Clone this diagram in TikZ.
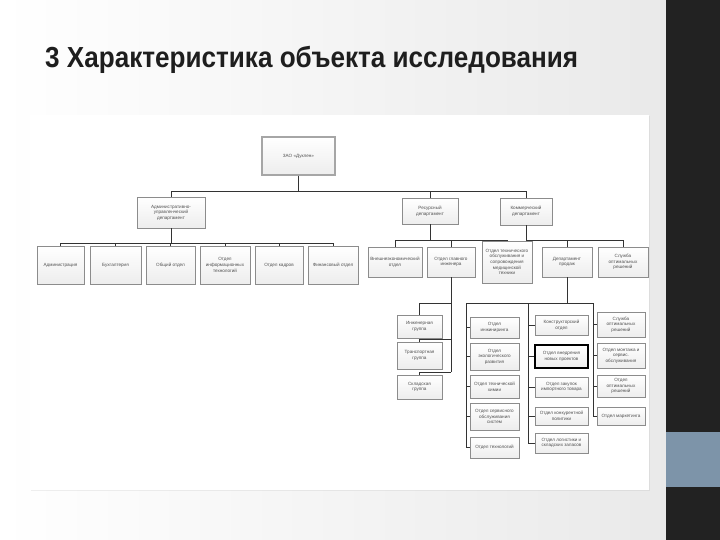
\documentclass[tikz,border=0pt]{standalone}
\usepackage{fontspec}
\usepackage{graphicx}
\setmainfont{Liberation Sans}
\usetikzlibrary{shadows}
\definecolor{band}{HTML}{222222}
\definecolor{accent}{HTML}{7D94A9}
\definecolor{boxline}{HTML}{8C8C8C}
\definecolor{boxtext}{HTML}{505050}
\definecolor{titlecol}{HTML}{1E1E1E}
\tikzset{
  box/.style={draw=boxline, line width=0.6pt, top color=white, bottom color=gray!14,
    font=\fontsize{4.6}{5.6}\selectfont, text=boxtext, align=center, inner sep=0pt,
    drop shadow={opacity=0.22, shadow xshift=0.8pt, shadow yshift=-0.8pt}},
  rootbox/.style={draw=gray!70, line width=1.4pt},
  boldbox/.style={draw=black, line width=1.6pt},
  conn/.style={draw=black!80, line width=0.5pt},
}
\newcommand{\orgbox}[7][]{\node[box,#1,minimum width={(#4-#2)*1pt},minimum height={(#5-#3)*1pt}] (#6) at ({(#2+#4)/2},{(#3+#5)/2}) {#7};}
\begin{document}
\begin{tikzpicture}[x=1pt,y=-1pt]
\useasboundingbox (0,0) rectangle (720,540);
% slide background
\fill[left color=white, right color=gray!17] (0,0) rectangle (666,540);
\fill[band] (666,0) rectangle (720,540);
\fill[accent] (666,432) rectangle (720,487);
\fill[white, drop shadow={opacity=0.12, shadow xshift=1pt, shadow yshift=-1pt}] (30,115) rectangle (649,490);
% title
\node[anchor=base west, inner sep=0pt, text=titlecol, font=\bfseries\fontsize{29}{30}\selectfont] (title) at (45,68) {\resizebox{533pt}{\height}{3 Характеристика объекта исследования}};
% level 0 and 1
\orgbox[rootbox]{262}{137}{335}{175}{root}{ЗАО «Дуклен»}
\orgbox{137}{197}{205}{228}{adm}{Административно-\\управленческий\\департамент}
\orgbox{402}{198}{458}{224}{res}{Ресурсный\\департамент}
\orgbox{500}{198}{552}{225}{com}{Коммерческий\\департамент}
% administrative row
\orgbox{37}{246}{84}{284}{l1}{Администрация}
\orgbox{90}{246}{141}{284}{l2}{Бухгалтерия}
\orgbox{146}{246}{195}{284}{l3}{Общий отдел}
\orgbox{200}{246}{250}{284}{l4}{Отдел\\информационных\\технологий}
\orgbox{255}{246}{303}{284}{l5}{Отдел кадров}
\orgbox{308}{246}{358}{284}{l6}{Финансовый отдел}
% resource and commercial row
\orgbox{368}{247}{422}{277}{ra}{Внешнеэкономический\\отдел}
\orgbox{427}{247}{475}{277}{rb}{Отдел главного\\инженера}
\orgbox{482}{241}{532}{283}{rc}{Отдел технического\\обслуживания и\\сопровождения\\медицинской\\техники}
\orgbox{542}{247}{592}{277}{cd}{Департамент\\продаж}
\orgbox{598}{247}{648}{277}{ce}{Служба\\оптимальных\\решений}
% column 1
\orgbox{397}{315}{442}{338}{g1}{Инженерная\\группа}
\orgbox{397}{342}{442}{369}{g2}{Транспортная\\группа}
\orgbox{397}{375}{442}{399}{g3}{Складская\\группа}
% column 2
\orgbox{470}{317}{519}{338}{m1}{Отдел\\инжиниринга}
\orgbox{470}{343}{519}{370}{m2}{Отдел\\экологического\\развития}
\orgbox{470}{375}{519}{398}{m3}{Отдел технической\\химии}
\orgbox{470}{403}{519}{430}{m4}{Отдел сервисного\\обслуживания\\систем}
\orgbox{470}{437}{519}{458}{m5}{Отдел технологий}
% column 3
\orgbox{535}{315}{588}{335}{p1}{Конструкторский\\отдел}
\orgbox[boldbox]{535}{345}{588}{368}{p2}{Отдел внедрения\\новых проектов}
\orgbox{535}{377}{588}{397}{p3}{Отдел закупок\\импортного товара}
\orgbox{535}{407}{588}{425}{p4}{Отдел конкурентной\\политики}
\orgbox{535}{433}{588}{453}{p5}{Отдел логистики и\\складских запасов}
% column 4
\orgbox{597}{312}{645}{337}{q1}{Служба\\оптимальных\\решений}
\orgbox{597}{343}{645}{368}{q2}{Отдел монтажа и\\сервис.\\обслуживания}
\orgbox{597}{375}{645}{397}{q3}{Отдел\\оптимальных\\решений}
\orgbox{597}{407}{645}{425}{q4}{Отдел маркетинга}
% connectors, upper levels
\draw[conn] (root.south) -- ++(0,16) coordinate (bA);
\foreach \n in {adm,res,com} \draw[conn] (bA) -| (\n.north);
\draw[conn] (adm.south) -- ++(0,15) coordinate (bB);
\foreach \n in {l1,l2,l3,l4,l5,l6} \draw[conn] (bB) -| (\n.north);
\draw[conn] (res.south) -- ++(0,16) coordinate (bC);
\foreach \n in {ra,rb,rc} \draw[conn] (bC) -| (\n.north);
\draw[conn] (com.south) -- ++(0,15) coordinate (bD);
\foreach \n in {cd,ce} \draw[conn] (bD) -| (\n.north);
% column 1
\coordinate (k1) at (451,303);
\coordinate (k2) at (451,339);
\coordinate (k3) at (451,372);
\draw[conn] (rb.south) -- (k3);
\draw[conn] (k1) -| (g1.north);
\draw[conn] (k2) -| (g2.north);
\draw[conn] (k3) -| (g3.north);
% columns 2-4
\coordinate (k4) at (466,303);
\coordinate (k5) at (528,303);
\coordinate (k6) at (593,303);
\draw[conn] (k4) -- (k6);
\draw[conn] (cd.south) -- (cd.south |- k4);
\draw[conn] (k4) |- (m5.west);
\foreach \n in {m1,m2,m3,m4} \draw[conn] (k4 |- \n.west) -- (\n.west);
\draw[conn] (k5) |- (p5.west);
\foreach \n in {p1,p2,p3,p4} \draw[conn] (k5 |- \n.west) -- (\n.west);
\draw[conn] (k6) |- (q4.west);
\foreach \n in {q1,q2,q3} \draw[conn] (k6 |- \n.west) -- (\n.west);
\end{tikzpicture}
\end{document}
